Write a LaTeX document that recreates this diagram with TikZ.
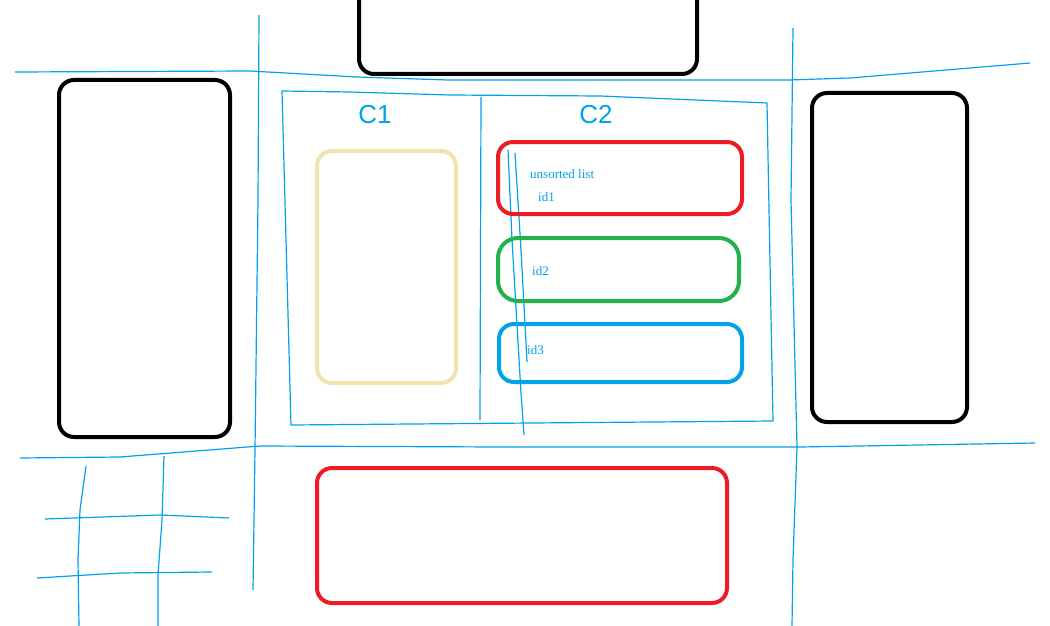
\documentclass[tikz,border=0pt]{standalone}
\usepackage{fontspec}
\setmainfont{Liberation Serif}
\newfontfamily\handfont{Liberation Sans}
\definecolor{paintblue}{RGB}{0,162,232}
\definecolor{paintred}{RGB}{237,28,36}
\definecolor{paintgreen}{RGB}{34,177,76}
\definecolor{paintbeige}{RGB}{239,228,176}
\tikzset{
  box/.style={draw,line width=4pt,rounded corners=15pt,inner sep=0pt},
  sketch/.style={paintblue,line width=1.2pt,line join=bevel},
  tag/.style={text=paintblue,inner sep=0pt,font=\fontsize{13}{15}\selectfont,anchor=west},
}
\begin{document}
\begin{tikzpicture}[x=1pt,y=-1pt]
%%
  \clip (0,0) rectangle (1050,626);
  \fill[white] (0,0) rectangle (1050,626);

  % street grid
  \draw[sketch] (15,72) -- (250,71) -- (357,77) -- (448,80) -- (789,80) -- (850,78) -- (1030,63);
  \draw[sketch] (20,458) -- (120,457) -- (260,446) -- (500,447) -- (800,447) -- (1035,443);
  \draw[sketch] (259,15) -- (258,200) -- (255,450) -- (253,590);
  \draw[sketch] (793,28) -- (791,200) -- (797,447) -- (793,560) -- (792,626);
  \draw[sketch] (45,519) -- (160,515) -- (229,518);
  \draw[sketch] (37,578) -- (120,573) -- (212,572);
  \draw[sketch] (86,466) -- (80,510) -- (78,560) -- (79,626);
  \draw[sketch] (164,456) -- (162,520) -- (158,575) -- (158,626);

  % the area with its two columns
  \draw[sketch] (282,91) -- (350,92) -- (450,95) -- (600,96) -- (767,103) -- (773,421) -- (291,425) -- cycle;
  \draw[sketch] (481,97) -- (480,420);
  \draw[sketch] (508,150) -- (512,240) -- (521,393) -- (524,435);
  \draw[sketch] (515,153) -- (521,250) -- (527,362);

  % buildings
  \node (node_top) at (528,27) [box,minimum width=338pt,minimum height=94pt] {};
  \node (node_left) at (144.5,258.5) [box,minimum width=171pt,minimum height=357pt] {};
  \node (node_right) at (889.5,257.5) [box,minimum width=155pt,minimum height=329pt] {};
  \node (node_bottom) at (522,535.5) [box,draw=paintred,minimum width=410pt,minimum height=135pt] {};

  % column contents
  \node (node_c1) at (386.5,267) [box,draw=paintbeige,minimum width=139pt,minimum height=232pt] {};
  \node (node_id1) at (620,178) [box,draw=paintred,minimum width=244pt,minimum height=72pt] {};
  \node (node_id2) at (618.5,269.5) [box,draw=paintgreen,rounded corners=20pt,minimum width=241pt,minimum height=63pt] {};
  \node (node_id3) at (620.5,353) [box,draw=paintblue,minimum width=243pt,minimum height=58pt] {};

  \node (label_c1) at (375,115) [text=paintblue,font=\handfont\fontsize{26}{28}\selectfont] {C1};
  \node (label_c2) at (596,115) [text=paintblue,font=\handfont\fontsize{26}{28}\selectfont] {C2};

  \node (text_list) at (530,174) [tag] {unsorted list};
  \node (text_id1) at (538,197) [tag] {id1};
  \node (text_id2) at (532,271) [tag] {id2};
  \node (text_id3) at (527,350) [tag] {id3};
%
\end{tikzpicture}
\end{document}
